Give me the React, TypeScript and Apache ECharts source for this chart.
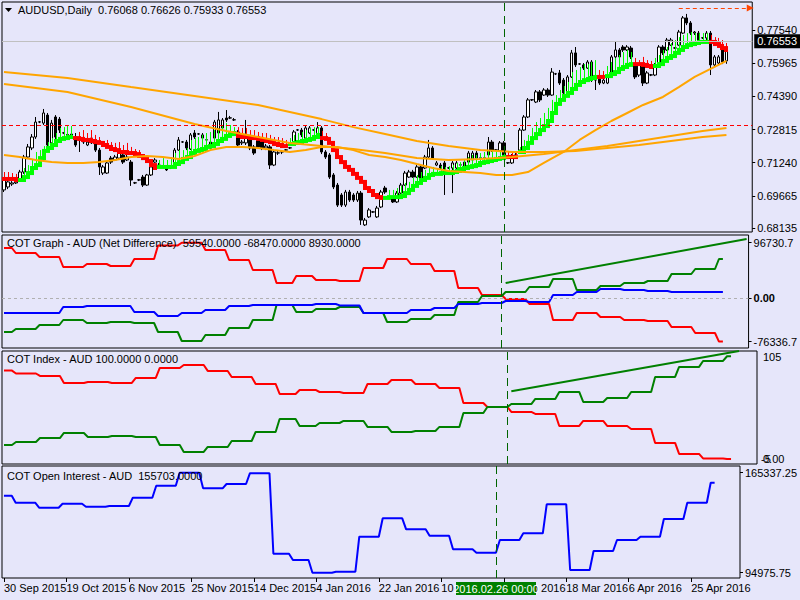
import React, { useEffect, useRef } from "react";
import * as echarts from "echarts";

const FONT = '"Liberation Sans Narrow", "Liberation Sans", Arial, sans-serif';
const BG = "#E6E6FA";
const SLOT_COUNT = 189;
const LAST_BAR = 182;

const tickLabels = [
  "30 Sep 2015", "19 Oct 2015", "6 Nov 2015", "25 Nov 2015", "14 Dec 2015", "4 Jan 2016",
  "22 Jan 2016", "10 Feb 2016", "29 Feb 2016", "18 Mar 2016", "6 Apr 2016", "25 Apr 2016",
];
const priceTicks = [0.7754, 0.75965, 0.7439, 0.72815, 0.7124, 0.69665, 0.68135];

// [open, close, low, high]
const candles = [
  [.6995,.7042,.6985,.7052],[.7009,.7033,.6999,.7042],[.7023,.7028,.7014,.7037],[.7028,.7033,.7023,.7037],[.7042,.7080,.7037,.7090],
  [.7080,.7151,.7071,.7161],[.7151,.7199,.7142,.7213],[.7194,.7246,.7184,.7260],[.7246,.7317,.7237,.7341],[.7317,.7318,.7312,.7322],
  [.7312,.7360,.7303,.7379],[.7350,.7208,.7199,.7360],[.7218,.7312,.7208,.7327],[.7341,.7246,.7232,.7350],[.7331,.7279,.7265,.7341],
  [.7265,.7266,.7260,.7270],[.7256,.7258,.7246,.7279],[.7260,.7256,.7246,.7284],[.7246,.7208,.7199,.7265],[.7232,.7233,.7175,.7256],
  [.7227,.7222,.7213,.7241],[.7208,.7222,.7203,.7232],[.7241,.7218,.7213,.7256],[.7232,.7184,.7175,.7246],[.7184,.7104,.7066,.7194],
  [.7075,.7104,.7066,.7113],[.7075,.7123,.7071,.7132],[.7146,.7127,.7118,.7156],[.7137,.7151,.7132,.7161],[.7146,.7170,.7142,.7184],
  [.7161,.7127,.7118,.7170],[.7137,.7151,.7132,.7161],[.7127,.7042,.7014,.7137],[.7028,.7029,.7023,.7033],[.7042,.7043,.7037,.7047],
  [.7056,.7018,.7009,.7066],[.7018,.7066,.7014,.7071],[.7066,.7104,.7061,.7113],[.7127,.7137,.7123,.7146],[.7113,.7108,.7099,.7123],
  [.7104,.7105,.7099,.7113],[.7104,.7090,.7085,.7113],[.7099,.7104,.7094,.7113],[.7123,.7184,.7118,.7194],[.7184,.7232,.7180,.7246],
  [.7222,.7223,.7218,.7227],[.7222,.7194,.7184,.7232],[.7189,.7256,.7184,.7265],[.7265,.7246,.7237,.7279],[.7260,.7261,.7256,.7265],
  [.7256,.7241,.7232,.7265],[.7232,.7233,.7227,.7237],[.7194,.7222,.7184,.7232],[.7241,.7317,.7237,.7327],[.7265,.7327,.7260,.7365],
  [.7289,.7327,.7279,.7336],[.7336,.7327,.7317,.7374],[.7336,.7337,.7331,.7346],[.7327,.7328,.7322,.7336],[.7270,.7208,.7199,.7279],
  [.7218,.7222,.7208,.7232],[.7218,.7256,.7208,.7327],[.7246,.7194,.7184,.7256],[.7199,.7170,.7161,.7208],[.7241,.7199,.7189,.7251],
  [.7232,.7194,.7184,.7241],[.7194,.7203,.7184,.7213],[.7199,.7113,.7094,.7208],[.7113,.7175,.7108,.7184],[.7170,.7171,.7161,.7180],
  [.7175,.7176,.7165,.7184],[.7184,.7185,.7180,.7189],[.7194,.7195,.7189,.7199],[.7222,.7270,.7218,.7279],[.7279,.7280,.7275,.7284],
  [.7279,.7256,.7246,.7289],[.7241,.7289,.7237,.7298],[.7265,.7289,.7260,.7298],[.7279,.7280,.7275,.7284],[.7246,.7289,.7241,.7317],
  [.7289,.7175,.7165,.7298],[.7175,.7151,.7142,.7184],[.7161,.7056,.7047,.7170],[.7066,.7009,.6999,.7075],[.7018,.6923,.6914,.7028],
  [.6971,.6923,.6914,.6980],[.6923,.6985,.6914,.6995],[.6985,.6947,.6938,.6995],[.6971,.6947,.6938,.6980],[.6947,.6980,.6938,.6990],
  [.6980,.6852,.6829,.6990],[.6829,.6852,.6824,.6862],[.6867,.6900,.6862,.6909],[.6890,.6891,.6886,.6895],[.6867,.6909,.6862,.6919],
  [.6914,.6985,.6909,.6995],[.7004,.6985,.6976,.7014],[.6961,.6962,.6957,.6966],[.6957,.6938,.6933,.6966],[.6938,.6980,.6933,.6990],
  [.6980,.7018,.6976,.7028],[.7018,.7075,.7014,.7085],[.7056,.7080,.7052,.7090],[.7080,.7056,.7052,.7090],[.7056,.7104,.7052,.7113],
  [.7104,.7042,.7037,.7113],[.7099,.7151,.7094,.7161],[.7151,.7194,.7146,.7232],[.7194,.7146,.7137,.7203],[.7113,.7123,.7108,.7132],
  [.7113,.7099,.7090,.7123],[.7123,.7080,.6971,.7132],[.7099,.7100,.7094,.7104],[.7099,.7123,.6980,.7132],[.7099,.7123,.7090,.7132],
  [.7113,.7114,.7108,.7118],[.7127,.7099,.7090,.7137],[.7127,.7170,.7123,.7180],[.7137,.7170,.7132,.7180],[.7170,.7146,.7137,.7180],
  [.7146,.7147,.7142,.7151],[.7146,.7147,.7142,.7151],[.7161,.7222,.7156,.7246],[.7222,.7184,.7175,.7232],[.7184,.7185,.7180,.7189],
  [.7180,.7218,.7175,.7227],[.7218,.7161,.7137,.7227],[.7123,.7124,.7118,.7127],[.7123,.7156,.7118,.7165],[.7161,.7146,.7142,.7170],
  [.7184,.7279,.7180,.7289],[.7279,.7341,.7275,.7350],[.7341,.7422,.7336,.7431],[.7422,.7423,.7417,.7426],[.7412,.7460,.7407,.7469],
  [.7460,.7422,.7412,.7469],[.7445,.7469,.7441,.7478],[.7469,.7445,.7436,.7478],[.7445,.7554,.7441,.7573],[.7545,.7546,.7540,.7550],
  [.7550,.7502,.7493,.7564],[.7516,.7455,.7445,.7526],[.7455,.7531,.7450,.7540],[.7531,.7645,.7526,.7659],[.7645,.7588,.7578,.7673],
  [.7592,.7593,.7588,.7597],[.7588,.7573,.7564,.7597],[.7573,.7602,.7569,.7611],[.7602,.7516,.7507,.7611],[.7526,.7516,.7469,.7535],
  [.7521,.7502,.7493,.7531],[.7502,.7516,.7497,.7526],[.7502,.7531,.7497,.7540],[.7531,.7626,.7526,.7635],[.7626,.7659,.7621,.7697],
  [.7659,.7626,.7616,.7668],[.7673,.7659,.7649,.7682],[.7659,.7673,.7654,.7682],[.7668,.7626,.7616,.7678],[.7588,.7531,.7521,.7597],
  [.7540,.7588,.7531,.7597],[.7588,.7502,.7488,.7597],[.7502,.7550,.7497,.7559],[.7540,.7541,.7535,.7545],[.7540,.7588,.7535,.7597],
  [.7588,.7673,.7583,.7682],[.7673,.7645,.7635,.7682],[.7659,.7706,.7654,.7716],[.7682,.7706,.7678,.7716],[.7668,.7669,.7664,.7673],
  [.7682,.7744,.7678,.7754],[.7739,.7811,.7735,.7820],[.7811,.7787,.7777,.7830],[.7787,.7739,.7730,.7796],[.7739,.7744,.7730,.7749],
  [.7739,.7706,.7697,.7749],[.7716,.7717,.7711,.7720],[.7716,.7739,.7706,.7749],[.7739,.7588,.7540,.7749],[.7588,.7626,.7578,.7635],
  [.7597,.7626,.7588,.7635],[.7659,.7602,.7592,.7668],[.76068,.76553,.75933,.76626],
];

// trailing-stop indicator value per bar
const trail = [
  .7047,.7047,.7047,.7042,.7042,.7056,.7075,.7099,.7113,.7146,.7180,.7194,.7208,.7227,.7237,.7241,.7246,.7246,
  .7241,.7237,.7232,.7232,.7227,.7222,.7218,.7208,.7199,.7189,.7184,.7175,.7175,.7170,.7170,.7165,.7156,.7146,.7132,.7113,.7099,
  .7104,.7104,.7104,.7104,.7118,.7127,.7142,.7151,.7170,.7180,.7184,.7189,.7199,.7203,.7213,.7227,.7237,.7251,.7260,.7265,
  .7251,.7246,.7246,.7241,.7241,.7237,.7232,.7227,.7222,.7213,.7208,.7203,.7203,
  .7213,.7218,.7222,.7227,.7232,.7237,.7246,.7256,
  .7241,.7237,.7218,.7184,.7151,.7127,.7104,.7090,.7071,.7052,.7033,.7004,.6990,.6971,.6961,.6957,
  .6957,.6961,.6961,.6961,.6966,.6980,.6995,.7014,.7028,.7042,.7052,.7066,.7071,.7071,.7075,.7075,.7075,.7080,.7085,.7094,.7099,
  .7104,.7108,.7113,.7123,.7127,.7132,.7137,.7142,.7146,.7151,
  .7151,.7151,.7151,
  .7175,.7194,.7218,.7241,.7260,.7279,.7298,.7322,.7360,.7403,.7422,.7441,.7455,.7474,.7493,.7507,.7516,.7521,.7526,.7531,
  .7531,.7531,
  .7535,.7545,.7554,.7569,.7578,.7588,.7592,
  .7592,.7592,.7588,.7583,.7578,
  .7583,.7592,.7607,.7621,.7630,.7645,.7659,.7673,.7682,.7687,.7692,.7697,.7697,.7697,
  .7697,.7687,.7678,.7668,.7659,
];
// [firstBar, lastBar, direction]
const trendRuns = [
  [0, 3, -1], [4, 17, 1], [18, 38, -1], [39, 58, 1], [59, 71, -1], [72, 79, 1], [80, 95, -1], [96, 126, 1],
  [127, 129, -1], [130, 149, 1], [150, 151, -1], [152, 158, 1], [159, 163, -1], [164, 177, 1], [178, 182, -1],
];
// thin indicator lines: [bar, top]
const spikes = [
  [0,.7080],[1,.7080],[2,.7075],[3,.7071],
  [5,.7099],[6,.7113],[7,.7137],[8,.7175],[9,.7184],[10,.7203],[11,.7222],[12,.7241],[13,.7265],[14,.7289],[15,.7293],[16,.7303],[17,.7298],
  [19,.7270],[20,.7279],[21,.7265],[22,.7279],[23,.7256],[24,.7246],[26,.7232],[27,.7222],[28,.7218],[29,.7222],[30,.7208],[31,.7218],[32,.7199],[33,.7189],[34,.7184],
  [39,.7137],[40,.7146],[41,.7137],[42,.7151],[43,.7170],[44,.7184],[45,.7184],[46,.7194],[47,.7232],[48,.7241],[49,.7246],[50,.7256],[51,.7265],[52,.7270],[53,.7279],[54,.7289],[55,.7303],[56,.7312],[57,.7303],[58,.7293],
  [59,.7293],[60,.7289],[61,.7289],[62,.7279],[63,.7279],[64,.7270],[65,.7265],[66,.7265],[67,.7256],[68,.7246],[69,.7246],[70,.7241],[71,.7232],
  [72,.7241],[73,.7256],[74,.7265],[75,.7270],[76,.7279],[77,.7289],[78,.7293],[79,.7293],
  [80,.7275],[81,.7265],
  [97,.6995],[98,.6995],[99,.7004],[100,.7014],[101,.7028],[102,.7033],[103,.7052],[104,.7066],[105,.7080],[106,.7090],[107,.7099],[108,.7104],[109,.7099],[110,.7108],[111,.7104],[112,.7108],[113,.7113],[114,.7123],[115,.7127],[116,.7137],[117,.7151],[118,.7161],[119,.7161],[120,.7170],[121,.7175],[122,.7184],[123,.7184],[124,.7184],[125,.7184],[126,.7184],
  [127,.7175],[128,.7175],[129,.7170],
  [130,.7199],[131,.7232],[132,.7256],[133,.7289],[134,.7317],[135,.7336],[136,.7360],[137,.7384],[138,.7422],[139,.7445],[140,.7469],[141,.7488],[142,.7507],[143,.7554],[144,.7564],[145,.7578],[146,.7592],[147,.7592],[148,.7602],[149,.7611],
  [150,.7564],[151,.7559],
  [152,.7583],[153,.7602],[154,.7621],[155,.7635],[156,.7649],[157,.7659],[158,.7649],
  [159,.7621],[160,.7611],[161,.7626],[162,.7611],[163,.7607],
  [164,.7621],[165,.7635],[166,.7659],[167,.7673],[168,.7692],[169,.7706],[170,.7720],[171,.7730],[172,.7739],[173,.7744],[174,.7739],[175,.7739],[176,.7739],[177,.7739],
  [178,.7730],[179,.7720],[180,.7716],[181,.7706],[182,.7692],
];

// moving averages, sampled points [bar, value]
const maSlow = [[0,.7554],[16,.7526],[32,.7483],[48,.7441],[64,.7398],[80,.7331],[88,.7293],[96,.7260],[104,.7227],[112,.7203],[120,.7184],[128,.7175],[136,.7175],[144,.7180],[152,.7194],[160,.7208],[168,.7227],[176,.7246],[182,.7256]];
const maMid = [[0,.7497],[16,.7460],[32,.7388],[48,.7308],[56,.7275],[64,.7246],[72,.7218],[80,.7203],[88,.7189],[96,.7170],[104,.7146],[112,.7137],[120,.7142],[128,.7151],[136,.7165],[144,.7184],[152,.7203],[160,.7227],[168,.7251],[176,.7275],[182,.7289]];
const maFast = [[0,.7161],[4,.7151],[8,.7137],[12,.7127],[16,.7123],[20,.7123],[24,.7127],[28,.7137],[32,.7151],[36,.7156],[40,.7151],[44,.7142],[48,.7156],[52,.7184],[56,.7199],[60,.7199],[64,.7194],[68,.7184],[72,.7175],[76,.7184],[80,.7199],[84,.7199],[88,.7184],[92,.7161],[96,.7151],[100,.7137],[104,.7118],[108,.7099],[112,.7085],[116,.7080],[120,.7075],[124,.7066],[128,.7066],[132,.7080],[136,.7123],[141,.7175],[145,.7232],[149,.7279],[153,.7322],[157,.7360],[161,.7398],[166,.7436],[170,.7483],[174,.7531],[178,.7569],[182,.7607]];

const currentPrice = 0.76553;
const redLevel = 0.728;
const arrowLevel = 0.7858;
const arrowFrom = 170;
const arrowTo = 188;
const crossBar = 126;
const crossLabel = "2016.02.26 00:00";

// weekly COT data, first bar of each week
const weekStarts = [0,3,9,15,21,27,33,39,45,51,57,63,69,74,79,85,91,97,103,109,115,121,127,133,139,145,151,157,163,169,175,181];
const cotRed = [87500,78750,71750,54250,59500,56000,68250,92000,96730,84000,66500,49000,26250,38500,31500,29750,52500,68250,59500,47250,17500,5250,-1750,-10500,-38500,-26250,-33250,-38500,-40250,-50750,-61250,-76337];
const cotGreen = [-59500,-54250,-47250,-38500,-43750,-42000,-43750,-59500,-75250,-64750,-52500,-38500,-12250,-24500,-19250,-15750,-26250,-42000,-36750,-29750,-7000,3500,10500,19250,33250,14000,21000,26250,29750,42000,50750,68250];
const cotBlue = [-26250,-26250,-26250,-15750,-14000,-14000,-24500,-31500,-26250,-21000,-14000,-12250,-12250,-12250,-10500,-13000,-26250,-26250,-21000,-17500,-10500,-8750,-5250,-7000,5250,10500,15750,14000,12250,10500,10500,10500];
const cotTrend = [[127, 26250], [188, 103250]];
const idxRed = [86.0,83.2,80.8,74.0,75.0,74.0,78.9,88.6,91.5,85.7,79.8,73.0,63.3,67.2,65.2,64.3,73.0,76.9,73.0,69.1,54.5,50.6,45.8,43.8,32.1,37.0,32.1,29.2,15.6,4.9,0.5,0];
const idxGreen = [13.6,16.5,20.4,25.3,21.4,22.4,21.4,13.6,6.8,11.7,17.5,26.3,38.9,32.1,35.0,37.0,31.2,26.3,27.3,31.2,44.8,50.6,53.5,58.4,65.2,55.5,59.4,65.2,79.8,89.6,95.4,100];
const idxTrend = [[127, 66], [184, 105]];
const oiBlue = [149150,144230,140710,143520,141410,141910,147750,156190,165337,154360,157385,165000,108344,103912,94976,95680,120306,133252,125512,121009,111440,109048,117984,122698,143102,96876,110244,117984,120306,132759,144228,158300];

function stepPoints(values: number[]) {
  const pts: number[][] = [];
  values.forEach((v, k) => {
    const s = weekStarts[k];
    const e = k + 1 < weekStarts.length ? weekStarts[k + 1] - 1 : LAST_BAR;
    pts.push([s, v]);
    if (e > s) pts.push([e, v]);
  });
  return pts;
}

function trendOf(i: number) {
  const r = trendRuns.find((run) => i >= run[0] && i <= run[1]);
  return r ? r[2] : 1;
}

const GREEN = "#00FF00";
const RED = "#FF0000";

function buildOption() {
  const slots = Array.from({ length: SLOT_COUNT }, (_, i) => i);
  const gridDefs = [
    { top: 2, height: 230 },
    { top: 235, height: 113 },
    { top: 351, height: 113 },
    { top: 466, height: 112 },
  ];
  const grid = gridDefs.map((g) => ({
    left: 2, width: 755, top: g.top, height: g.height,
    show: true, borderColor: "#000", borderWidth: 1, backgroundColor: "transparent",
  }));
  const tickFn = (idx: number) => idx % 16 === 0 && idx / 16 < tickLabels.length;
  const xAxis = gridDefs.map((_, k) => ({
    type: "category", gridIndex: k, data: slots, boundaryGap: true,
    axisLine: { show: false },
    axisTick: { show: k === 3, alignWithLabel: true, interval: tickFn, length: 4, lineStyle: { color: "#000" } },
    axisLabel: {
      show: k === 3, interval: tickFn, align: "left", margin: 4,
      formatter: (_v: any, idx: number) => tickLabels[idx / 16] ?? "",
      color: "#000", fontSize: 11, fontFamily: FONT,
    },
    splitLine: { show: false },
  }));
  const baseY = {
    type: "value", position: "right", splitLine: { show: false },
    axisLine: { show: false },
  };
  const yAxis = [
    {
      ...baseY, gridIndex: 0, min: 0.67954, max: 0.78865,
      axisTick: { show: true, customValues: priceTicks, length: 3, lineStyle: { color: "#000" } },
      axisLabel: { customValues: priceTicks, formatter: (v: number) => v.toFixed(5), color: "#000", fontSize: 11, fontFamily: FONT, margin: 5 },
    },
    {
      ...baseY, gridIndex: 1, min: -87500, max: 110250,
      axisTick: { show: true, customValues: [96730.7, 0, -76336.7], length: 3, lineStyle: { color: "#000" } },
      axisLabel: {
        customValues: [96730.7, 0, -76336.7],
        formatter: (v: number) => (v === 0 ? "{b|0.00}" : v.toFixed(1)),
        rich: { b: { fontWeight: "bold", fontSize: 11, fontFamily: FONT, color: "#000" } },
        color: "#000", fontSize: 11, fontFamily: FONT, margin: 5,
      },
    },
    { ...baseY, gridIndex: 2, min: -4.9, max: 105.1, axisTick: { show: false }, axisLabel: { show: false } },
    {
      ...baseY, gridIndex: 3, min: 91250, max: 170050,
      axisTick: { show: true, customValues: [165337.25, 94975.75], length: 3, lineStyle: { color: "#000" } },
      axisLabel: { customValues: [165337.25, 94975.75], formatter: (v: number) => v.toFixed(2), color: "#000", fontSize: 11, fontFamily: FONT, margin: 5 },
    },
  ];

  const crossMark = (k: number) => ({
    silent: true, symbol: ["none", "none"], animation: false,
    data: [{ xAxis: crossBar, lineStyle: { color: "#006400", type: [8, 5], width: 1 }, label: { show: false } }],
  });

  const blockData = trail.map((v, i) => {
    const t = trendOf(i);
    const prev = i > 0 && trendOf(i - 1) === t ? trail[i - 1] : v;
    return [i, v, prev, t];
  });
  const spikeData = spikes.map(([i, top]) => [i, trail[i], top, trendOf(i)]);

  const maLine = (data: number[][]) => ({
    type: "line", xAxisIndex: 0, yAxisIndex: 0, data, symbol: "none", silent: true,
    lineStyle: { color: "#FFA500", width: 2 }, z: 4,
  });
  const cotLine = (k: number, data: number[][], color: string, extra: any = {}) => ({
    type: "line", xAxisIndex: k, yAxisIndex: k, data, symbol: "none", silent: true,
    lineStyle: { color, width: 2 }, ...extra,
  });

  const series: any[] = [
    {
      type: "candlestick", xAxisIndex: 0, yAxisIndex: 0, data: candles, barWidth: 3, silent: true,
      itemStyle: { color: "#FFFFFF", color0: "#000000", borderColor: "#000000", borderColor0: "#000000", borderWidth: 1 },
      markLine: {
        silent: true, symbol: ["none", "none"], animation: false,
        data: [
          {
            yAxis: currentPrice, lineStyle: { color: "#C0C0C0", type: "solid", width: 1 },
            label: { show: true, position: "end", distance: 2, formatter: "0.76553", color: "#FFFFFF", backgroundColor: "#000000", padding: [2, 3, 1, 3], fontSize: 11, fontFamily: FONT },
          },
          { yAxis: redLevel, lineStyle: { color: "#FF0000", type: [4, 3], width: 1 }, label: { show: false } },
          [
            { coord: [arrowFrom, arrowLevel], symbol: "none", lineStyle: { color: "#FF4500", type: [4, 3], width: 1 }, label: { show: false } },
            { coord: [arrowTo, arrowLevel], symbol: "triangle", symbolSize: [7, 7], symbolRotate: -90, itemStyle: { color: "#FF4500" } },
          ],
          { xAxis: crossBar, lineStyle: { color: "#006400", type: [8, 5], width: 1 }, label: { show: false } },
        ],
      },
      z: 2,
    },
    {
      type: "custom", xAxisIndex: 0, yAxisIndex: 0, data: spikeData, silent: true, z: 3,
      encode: { x: 0, y: [1, 2] },
      renderItem: (_p: any, api: any) => {
        const i = api.value(0);
        const a = api.coord([i, api.value(1)]);
        const b = api.coord([i, api.value(2)]);
        const x = Math.round(a[0]) + 0.5;
        return { type: "line", shape: { x1: x, y1: a[1], x2: x, y2: b[1] }, style: { stroke: api.value(3) > 0 ? GREEN : RED, lineWidth: 1 } };
      },
    },
    {
      type: "custom", xAxisIndex: 0, yAxisIndex: 0, data: blockData, silent: true, z: 3,
      encode: { x: 0, y: [1, 2] },
      renderItem: (_p: any, api: any) => {
        const i = api.value(0);
        const c = api.coord([i, api.value(1)]);
        const p = api.coord([i, api.value(2)]);
        const w = api.size([1, 0])[0];
        const top = Math.min(c[1], p[1]) - 2;
        const bot = Math.max(c[1], p[1]) + 2;
        return { type: "rect", shape: { x: Math.round(c[0] - w / 2), y: top, width: Math.ceil(w), height: bot - top }, style: { fill: api.value(3) > 0 ? GREEN : RED } };
      },
    },
    maLine(maSlow),
    maLine(maMid),
    maLine(maFast),
    cotLine(1, stepPoints(cotRed), "#FF0000", {
      markLine: {
        silent: true, symbol: ["none", "none"], animation: false,
        data: [
          { yAxis: 0, lineStyle: { color: "#B0B0B0", type: [3, 3], width: 1 }, label: { show: false } },
          { xAxis: crossBar, lineStyle: { color: "#006400", type: [8, 5], width: 1 }, label: { show: false } },
        ],
      },
    }),
    cotLine(1, stepPoints(cotGreen), "#008000"),
    cotLine(1, stepPoints(cotBlue), "#0000FF"),
    cotLine(1, cotTrend, "#008000"),
    cotLine(2, stepPoints(idxRed), "#FF0000", { markLine: crossMark(2) }),
    cotLine(2, stepPoints(idxGreen), "#008000"),
    cotLine(2, idxTrend, "#008000"),
    cotLine(3, stepPoints(oiBlue), "#0000FF", { markLine: crossMark(3) }),
  ];

  return {
    animation: false,
    backgroundColor: BG,
    textStyle: { fontFamily: FONT },
    grid, xAxis, yAxis, series,
  };
}

function buildGraphics(chart: any) {
  const txt = (x: number, y: number, text: string, extra: any = {}) => ({
    type: "text", x, y, silent: true, z: 100,
    style: { text, fill: "#000", font: `11px ${FONT}`, verticalAlign: "middle", align: "left", ...extra },
  });
  const y105 = chart.convertToPixel({ yAxisIndex: 2 }, 105);
  const y0 = chart.convertToPixel({ yAxisIndex: 2 }, 0);
  const cx = chart.convertToPixel({ xAxisIndex: 3 }, crossBar);
  return [
    { type: "polygon", silent: true, z: 100, shape: { points: [[5, 8], [12, 8], [8.5, 12]] }, style: { fill: "#000" } },
    txt(18, 10, "AUDUSD,Daily  0.76068 0.76626 0.75933 0.76553"),
    txt(7, 243, "COT Graph - AUD (Net Difference)  59540.0000 -68470.0000 8930.0000"),
    txt(7, 359, "COT Index - AUD 100.0000 0.0000"),
    txt(7, 476, "COT Open Interest - AUD  155703.0000"),
    txt(763, y105 + 6, "105"),
    txt(763, y0, "0.00"),
    txt(761, y0, "-5"),
    { type: "rect", silent: true, z: 100, shape: { x: Math.round(cx - 40), y: 582, width: 80, height: 13 }, style: { fill: "#008000" } },
    txt(Math.round(cx), 589, crossLabel, { fill: "#FFFFFF", align: "center" }),
  ];
}

export default function App() {
  const ref = useRef<HTMLDivElement>(null);
  useEffect(() => {
    document.body.style.margin = "0";
    const chart = echarts.init(ref.current as HTMLDivElement, null, { renderer: "svg" });
    chart.setOption(buildOption() as any);
    chart.setOption({ graphic: buildGraphics(chart) } as any);
    return () => chart.dispose();
  }, []);
  return <div ref={ref} style={{ width: 800, height: 600, background: BG }} />;
}
